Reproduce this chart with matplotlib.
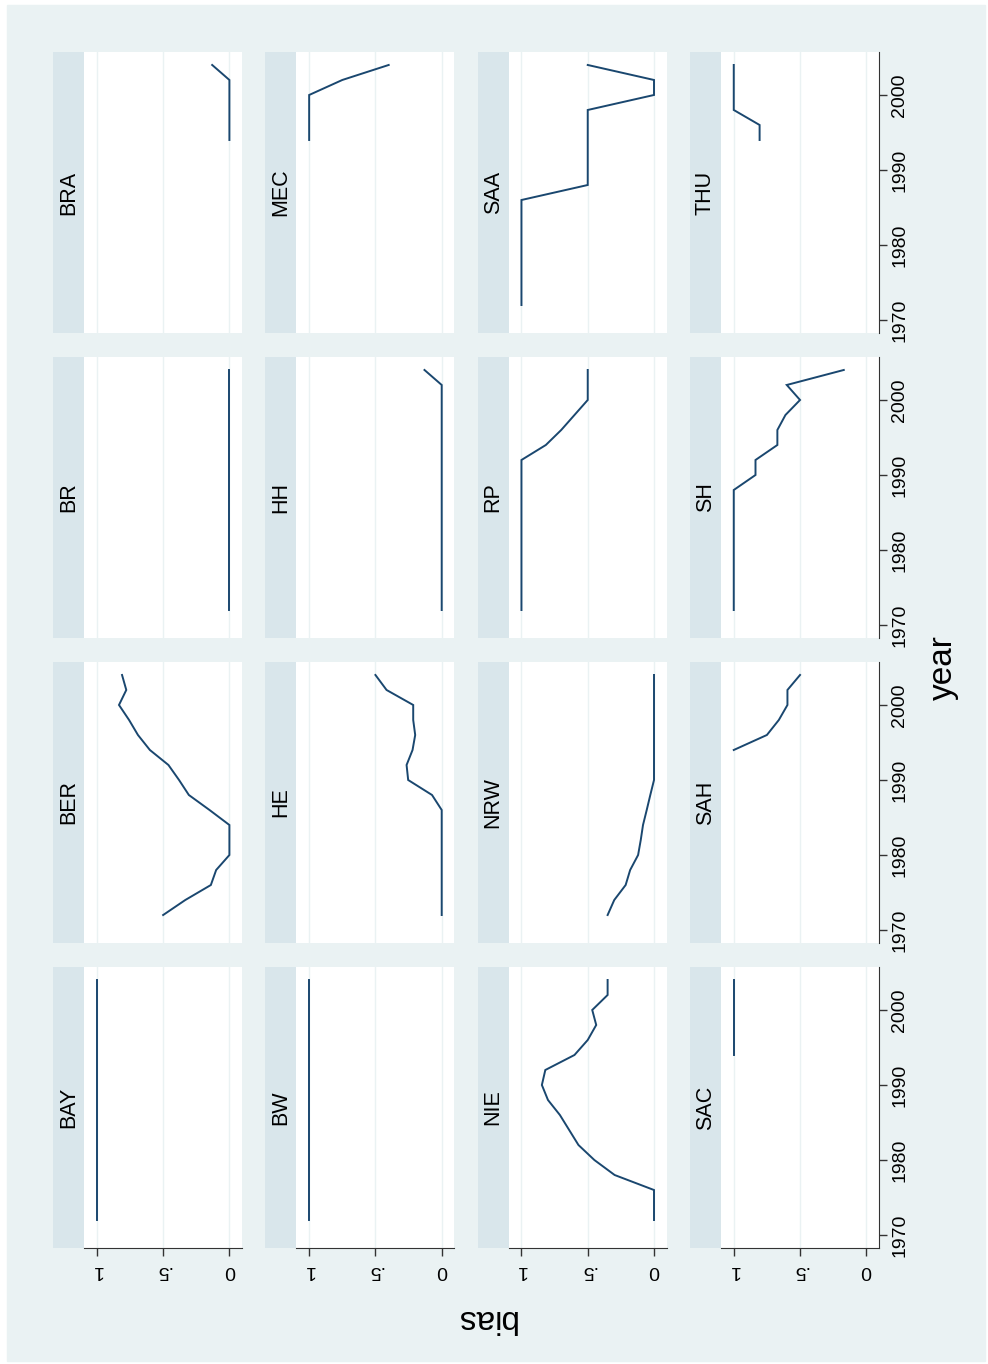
import numpy as np
import matplotlib
matplotlib.use("Agg")
import matplotlib.pyplot as plt
from matplotlib.patches import Rectangle

plt.rcParams["font.family"] = ["Liberation Sans", "DejaVu Sans"]

BG = "#EAF2F3"
STRIP = "#D9E6EB"
LINE = "#1A476F"
AXIS = "#333333"

YEARS = [1972, 1974, 1976, 1978, 1980, 1982, 1984, 1986, 1988,
         1990, 1992, 1994, 1996, 1998, 2000, 2002, 2004]

BAY = [1, 1, 1, 1, 1, 1, 1, 1, 1, 1, 1, 1, 1, 1, 1, 1, 1]
BER = [.50, .333, .14, .10, 0, 0, 0, .15, .306, .38, .46, .60, .69, .757, .833, .778, .81]
BR = [0, 0, 0, 0, 0, 0, 0, 0, 0, 0, 0, 0, 0, 0, 0, 0, 0]
BRA = [None] * 11 + [0, 0, 0, 0, 0, .13]
BW = [1, 1, 1, 1, 1, 1, 1, 1, 1, 1, 1, 1, 1, 1, 1, 1, 1]
HE = [0, 0, 0, 0, 0, 0, 0, 0, .073, .253, .265, .22, .20, .215, .215, .416, .50]
HH = [0, 0, 0, 0, 0, 0, 0, 0, 0, 0, 0, 0, 0, 0, 0, 0, .13]
MEC = [None] * 11 + [1, 1, 1, 1, .75, .40]
NIE = [0, 0, 0, .297, .45, .57, .64, .71, .80, .846, .82, .60, .50, .436, .466, .35, .35]
NRW = [.35, .30, .214, .18, .12, .10, .083, .055, .028, 0, 0, 0, 0, 0, 0, 0, 0]
RP = [1, 1, 1, 1, 1, 1, 1, 1, 1, 1, 1, .816, .70, .60, .50, .50, .50]
SAA = [1, 1, 1, 1, 1, 1, 1, 1, .5, .5, .5, .5, .5, .5, 0, 0, .5]
SAC = [None] * 11 + [1, 1, 1, 1, 1, 1]
SAH = [None] * 11 + [1, .75, .66, .595, .595, .50]
SH = [1, 1, 1, 1, 1, 1, 1, 1, 1, .836, .836, .671, .671, .61, .50, .60, .17]
THU = [None] * 11 + [.805, .805, 1, 1, 1, 1]

# grid order: one row of the list per column on the page, bottom to top
GRID = [
    [("BAY", BAY), ("BER", BER), ("BR", BR), ("BRA", BRA)],
    [("BW", BW), ("HE", HE), ("HH", HH), ("MEC", MEC)],
    [("NIE", NIE), ("NRW", NRW), ("RP", RP), ("SAA", SAA)],
    [("SAC", SAC), ("SAH", SAH), ("SH", SH), ("THU", THU)],
]

YEAR_TICKS = [1970, 1980, 1990, 2000]
BIAS_TICKS = [0, 0.5, 1]
BIAS_LABELS = ["0", ".5", "1"]

W, H = 988, 1364
PLOT_W, PLOT_H, STRIP_W = 158, 281, 31


def box(left, top, w, h):
    return [left / W, 1 - (top + h) / H, w / W, h / H]


fig = plt.figure(figsize=(W / 100, H / 100), dpi=100, facecolor="white")
fig.patches.append(Rectangle((7 / W, 1 - 1361 / H), 978 / W, 1356 / H,
                             transform=fig.transFigure, color=BG, zorder=-10))

for col, panels in enumerate(GRID):
    left = 84 + 212.3 * col
    for row, (name, values) in enumerate(reversed(panels)):
        top = 52 + 305 * row

        sax = fig.add_axes(box(left - STRIP_W, top, STRIP_W, PLOT_H))
        sax.set_facecolor(STRIP)
        sax.set_xticks([])
        sax.set_yticks([])
        for s in sax.spines.values():
            s.set_visible(False)
        sax.text(0.5, 0.5, name, rotation=90, ha="center", va="center",
                 fontsize=15.5, transform=sax.transAxes)

        ax = fig.add_axes(box(left, top, PLOT_W, PLOT_H))
        ax.set_facecolor("white")
        y = np.array([np.nan if v is None else v for v in values], dtype=float)
        ax.plot(y, YEARS, color=LINE, lw=1.4, solid_joinstyle="miter")
        ax.set_xlim(1.097, -0.095)
        ax.set_ylim(1968.27, 2005.73)
        ax.set_xticks(BIAS_TICKS)
        ax.grid(axis="x", color=BG, lw=1.0)
        ax.set_axisbelow(True)
        for s in ax.spines.values():
            s.set_visible(False)

        is_bottom = row == 3
        is_right = col == 3
        if is_bottom:
            ax.spines["bottom"].set_visible(True)
            ax.spines["bottom"].set_color(AXIS)
            ax.set_xticklabels(BIAS_LABELS)
            ax.tick_params(axis="x", length=6, width=1, color=AXIS,
                           labelsize=14, labelrotation=180, pad=4)
        else:
            ax.tick_params(axis="x", length=0, labelbottom=False)

        ax.set_yticks(YEAR_TICKS)
        if is_right:
            ax.yaxis.tick_right()
            ax.spines["right"].set_visible(True)
            ax.spines["right"].set_color(AXIS)
            ax.tick_params(axis="y", length=6, width=1, color=AXIS,
                           labelsize=14, labelrotation=90, pad=3)
            for lab in ax.get_yticklabels():
                lab.set_va("center")
        else:
            ax.tick_params(axis="y", length=0, labelleft=False, labelright=False)

fig.text(943 / W, 1 - 668 / H, "year", rotation=90, ha="center", va="center",
         fontsize=24)
fig.text(485 / W, 1 - 1318 / H, "bias", rotation=180, ha="center", va="center",
         fontsize=24)

fig.savefig("out.png", dpi=100, facecolor="white")
